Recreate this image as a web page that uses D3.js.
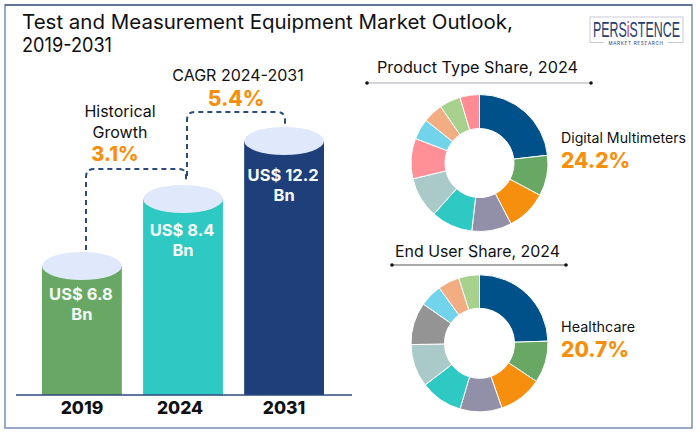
<!DOCTYPE html>
<html>
<head>
<meta charset="utf-8">
<script src="https://cdn.jsdelivr.net/npm/d3@7"></script>
<style>
  html, body { margin: 0; padding: 0; background: #fff; }
  text { font-family: Inter, "Open Sans", sans-serif; fill: #111; }
</style>
</head>
<body>
<svg id="chart" width="700" height="435"></svg>
<script>
// market size
var years = ['2019', '2024', '2031'];
var marketValues = [6.8, 8.4, 12.2];
var marketLabels = ['US$ 6.8', 'US$ 8.4', 'US$ 12.2'];
var barColors = ['#68a864', '#2fc9c3', '#1f3f7a'];

// donut shares
var productShares = [23.2, 9.6, 9.6, 9.4, 9.8, 9.7, 9.5, 4.9, 4.7, 5.0, 4.6];
var productColors = ['#00508a', '#68a864', '#f78f0e', '#9190a8', '#2fc9c3', '#aac9c9', '#ff9098', '#72d4ea', '#f2ae82', '#a8d18d', '#ff8b94'];
var userShares = [24.5, 9.9, 10.3, 9.9, 10.0, 10.1, 10.0, 5.3, 5.1, 4.9];
var userColors = ['#00508a', '#68a864', '#f78f0e', '#9190a8', '#2fc9c3', '#aac9c9', '#949494', '#72d4ea', '#f2ae82', '#a8d18d'];

var navy = '#2c4a7a';
var orange = '#f78f0e';

var svg = d3.select('#chart');

// outer frame, the top edge is thinner and darker
svg.append('rect')
  .attr('x', 5).attr('y', 5)
  .attr('width', 687).attr('height', 423)
  .attr('fill', 'none')
  .attr('stroke', '#8fa0c4')
  .attr('stroke-width', 1.8);
svg.append('line')
  .attr('x1', 5).attr('x2', 692)
  .attr('y1', 5).attr('y2', 5)
  .attr('stroke', '#2b4368')
  .attr('stroke-width', 1);

// title
svg.append('text').attr('x', 22).attr('y', 29).attr('font-size', 20).attr('textLength', 491).attr('lengthAdjust', 'spacingAndGlyphs').text('Test and Measurement Equipment Market Outlook,');
svg.append('text').attr('x', 22).attr('y', 52).attr('font-size', 20).attr('textLength', 90).attr('lengthAdjust', 'spacingAndGlyphs').text('2019-2031');

// logo
var logo = svg.append('g');
logo.append('rect')
  .attr('x', 590).attr('y', 17).attr('width', 93).attr('height', 25.5)
  .attr('fill', '#fff').attr('stroke', '#b9bfce').attr('stroke-width', 0.8);
// no narrow font here, so squeeze the wordmark to the logo's width
var logoText = logo.append('text')
  .attr('font-size', 22)
  .style('font-family', '"Liberation Sans", sans-serif')
  .style('fill', '#27406f');
logoText.append('tspan').text('PERS');
logoText.append('tspan').style('fill', '#d12b3a').text('i');
logoText.append('tspan').text('STENCE');
var logoScale = 87 / logoText.node().getComputedTextLength();
logoText.attr('transform', 'translate(593,37) scale(' + logoScale + ',1)');
logo.append('rect').attr('x', 604).attr('y', 40).attr('width', 64).attr('height', 5).attr('fill', '#fff');
logo.append('text')
  .attr('x', 636).attr('y', 44.5)
  .attr('text-anchor', 'middle')
  .attr('font-size', 4.6)
  .attr('letter-spacing', 0.7)
  .style('fill', '#27406f')
  .text('MARKET RESEARCH');

// cylinders
var x = d3.scaleBand().domain(years).range([42, 324]).paddingInner(0.21);
// the bars in the picture are not to scale, so the scale follows them piece by piece
var y = d3.scaleLinear().domain([0, 6.8, 8.4, 12.2]).range([395, 266, 199, 141]);
var labelGap = [28, 31, 34];

var bars = svg.selectAll('.bar')
  .data(years)
  .enter()
  .append('g')
  .attr('class', 'bar');

bars.append('rect')
  .attr('x', d => x(d))
  .attr('y', (d, i) => y(marketValues[i]))
  .attr('width', x.bandwidth())
  .attr('height', (d, i) => y(0) - y(marketValues[i]))
  .attr('fill', (d, i) => barColors[i]);

bars.append('ellipse')
  .attr('cx', d => x(d) + x.bandwidth() / 2)
  .attr('cy', (d, i) => y(marketValues[i]))
  .attr('rx', x.bandwidth() / 2)
  .attr('ry', 14)
  .attr('fill', '#dfe9fb');

bars.append('text')
  .attr('x', d => x(d) + x.bandwidth() / 2 - 1)
  .attr('y', (d, i) => y(marketValues[i]) + labelGap[i] + 6)
  .attr('text-anchor', 'middle')
  .attr('font-size', 16.5)
  .attr('font-weight', 700)
  .style('fill', '#f4fbf6')
  .text((d, i) => marketLabels[i]);

bars.append('text')
  .attr('x', d => x(d) + x.bandwidth() / 2)
  .attr('y', (d, i) => y(marketValues[i]) + labelGap[i] + 26)
  .attr('text-anchor', 'middle')
  .attr('font-size', 16.5)
  .attr('font-weight', 700)
  .style('fill', '#f4fbf6')
  .text('Bn');

// x axis
var axis = svg.append('g')
  .attr('transform', 'translate(0,395)')
  .call(d3.axisBottom(x).tickSize(0).tickPadding(7));
axis.select('.domain').remove();
axis.selectAll('text')
  .attr('font-size', 17.5)
  .attr('font-weight', 800)
  .attr('dx', (d, i) => i == 1 ? -3 : 0)
  .style('font-family', 'Inter, sans-serif')
  .style('fill', '#111');
svg.append('line')
  .attr('x1', 16).attr('x2', 352)
  .attr('y1', 395).attr('y2', 395)
  .attr('stroke', navy).attr('stroke-width', 1.5);

// dashed growth connectors
var dashed = d3.path();
dashed.moveTo(86, 250);
dashed.lineTo(86, 177);
dashed.quadraticCurveTo(86, 169, 94, 169);
dashed.lineTo(179, 169);
dashed.quadraticCurveTo(186, 169, 186, 176);
dashed.lineTo(186, 182);
dashed.moveTo(187, 176);
dashed.lineTo(187, 120);
dashed.quadraticCurveTo(187, 112, 195, 112);
dashed.lineTo(277, 112);
dashed.quadraticCurveTo(285, 112, 285, 120);
dashed.lineTo(285, 127);
svg.append('path')
  .attr('d', dashed.toString())
  .attr('fill', 'none')
  .attr('stroke', navy)
  .attr('stroke-width', 2)
  .attr('stroke-dasharray', '5 4');

// growth labels
function centerText(tx, ty, size, txt, color, weight) {
  svg.append('text')
    .attr('x', tx).attr('y', ty)
    .attr('text-anchor', 'middle')
    .attr('font-size', size)
    .attr('font-weight', weight || 400)
    .style('fill', color || '#111')
    .text(txt);
}
centerText(120, 117, 16, 'Historical');
centerText(120, 138, 16, 'Growth');
centerText(115, 161, 20, '3.1%', orange, 800);
centerText(238, 81, 16, 'CAGR 2024-2031');
centerText(236, 105.5, 21, '5.4%', orange, 800);

// donuts
function donut(cy, shares, colors, r0) {
  var pie = d3.pie().sort(null);
  var arc = d3.arc().innerRadius(r0).outerRadius(68.5);
  svg.append('g')
    .attr('transform', 'translate(479.5,' + cy + ')')
    .selectAll('path')
    .data(pie(shares))
    .enter()
    .append('path')
    .attr('d', arc)
    .attr('fill', (d, i) => colors[i])
    .attr('stroke', '#fff')
    .attr('stroke-width', 1);
}
donut(163, productShares, productColors, 34.5);
donut(343.3, userShares, userColors, 35);

// donut headings with their rule
function heading(tx, ty, txt, x1, x2, ly, color, len) {
  svg.append('text')
    .attr('x', tx).attr('y', ty)
    .attr('font-size', 16)
    .attr('textLength', len)
    .attr('lengthAdjust', 'spacingAndGlyphs')
    .text(txt);
  svg.append('line')
    .attr('x1', x1).attr('x2', x2).attr('y1', ly).attr('y2', ly)
    .attr('stroke', color).attr('stroke-width', 1.2);
  svg.selectAll(null)
    .data([x1, x2])
    .enter()
    .append('circle')
    .attr('cx', d => d).attr('cy', ly).attr('r', 1.8)
    .attr('fill', '#111');
}
heading(377, 73, 'Product Type Share, 2024', 367, 591, 83, '#a9a9b5', 201);
heading(395, 257, 'End User Share, 2024', 392, 566, 265, '#555', 165);

// callouts
function callout(tx, ty, txt, pct, len) {
  svg.append('text')
    .attr('x', tx).attr('y', ty)
    .attr('font-size', 14)
    .attr('textLength', len)
    .attr('lengthAdjust', 'spacingAndGlyphs')
    .text(txt);
  svg.append('text')
    .attr('x', tx).attr('y', ty + 25)
    .attr('font-size', 21)
    .attr('font-weight', 800)
    .style('fill', orange)
    .text(pct);
}
callout(561, 143, 'Digital Multimeters', '24.2%', 125);
callout(561, 332, 'Healthcare', '20.7%', 74);
</script>
</body>
</html>
